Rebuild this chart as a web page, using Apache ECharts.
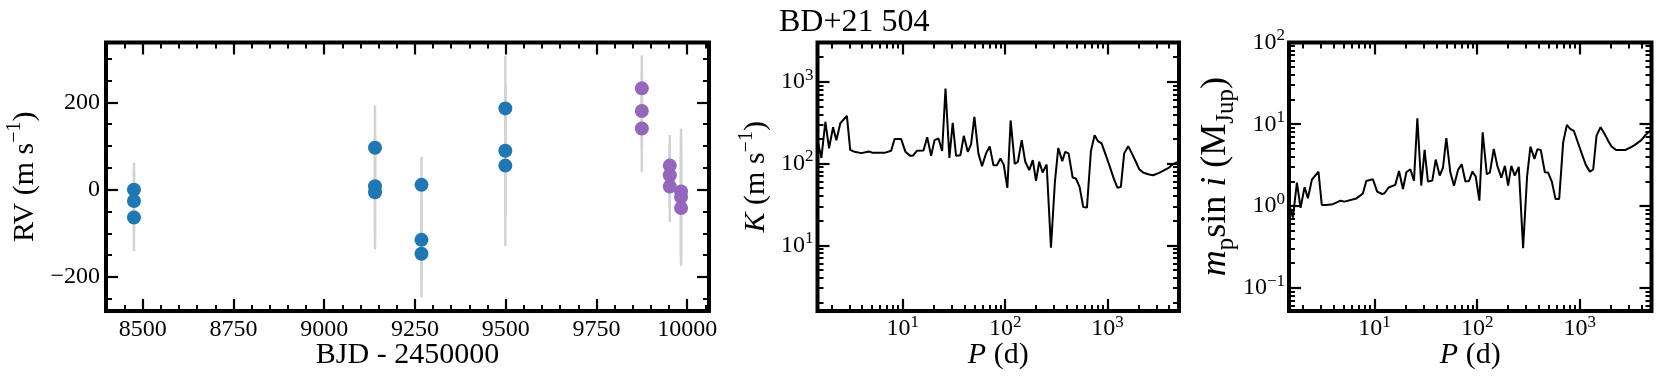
<!DOCTYPE html>
<html><head><meta charset="utf-8">
<script src="https://cdn.jsdelivr.net/npm/echarts@6/dist/echarts.min.js"></script>
<style>html,body{margin:0;padding:0;background:#fff}#c{width:1661px;height:386px}</style>
</head><body><div id="c"></div>
<script>
// ---------- data ----------
const titleText = 'BD+21 504';
// RV panel
const blueT   = [8476, 8476, 8476, 9140, 9140, 9140, 9268, 9268, 9268, 9499, 9499, 9499];
const blueRV  = [0, -26, -64, 96, 8, -6, 11, -115, -147, 186, 89, 55];
const blueErr = [62, 70, 77, 97, 115, 131, 64, 90, 100, 121, 150, 184];
const purpleT   = [9875, 9875, 9875, 9952, 9952, 9952, 9983, 9983, 9983];
const purpleRV  = [232, 180, 140, 55, 33, 7, -4, -17, -42];
const purpleErr = [76, 90, 100, 70, 75, 81, 144, 140, 133];
const rvXTicks = [8500, 8750, 9000, 9250, 9500, 9750, 10000];
const rvXMinor = [8400, 8450, 8550, 8600, 8650, 8700, 8800, 8850, 8900, 8950, 9050, 9100, 9150, 9200, 9300, 9350, 9400, 9450, 9550, 9600, 9650, 9700, 9800, 9850, 9900, 9950, 10050];
const rvYTicks = [-200, 0, 200];
const rvYMinor = [-250, -150, -100, -50, 50, 100, 150, 250, 300];
// detection-limit panels
const periods = [1.47,1.60,1.75,1.90,2.08,2.24,2.45,2.84,3.06,3.38,
  3.92,4.66,5.10,6.62,7.69,8.30,9.63,10.6,11.8,12.5,
  13.7,15.9,17.3,18.9,20.4,22.3,24.2,26.1,28.5,30.7,
  33.1,36.5,39.4,43.1,46.4,50.0,54.7,59.4,65.0,70.6,
  76.7,83.2,89.7,96.7,105,113,124,133,145,157,
  172,186,200,215,232,254,280,306,330,361,
  386,416,456,491,533,579,629,688,747,805,
  874,963,1054,1144,1252,1349,1454,1591,1728,1890,
  2037,2245,2550,2790,3192,3441,3997,4307,4950];
const kLimit = [190,117,324,153,278,193,311,382,147,139,
  134,140,135,135,143,199,199,139,124,124,
  143,144,210,124,193,202,142,828,117,315,
  124,126,218,139,171,373,133,92.8,133,162,
  95.4,95.4,115,97.2,50.4,336,99,105,193,105,
  82.9,110,61.3,105,77.6,97.2,9.36,59.7,155,107,
  139,133,67.4,65.5,51.8,29.4,28.9,142,222,188,
  176,126,91,66.7,50.4,51.8,133,163,133,105,
  85.3,76.9,73.3,71.9,76.9,80.5,89.3,97.2,105];
const mLimit = [1.05,0.72,1.93,0.95,1.70,1.24,2.10,2.62,1.03,1.03,
  1.05,1.16,1.13,1.23,1.42,2.02,2.12,1.50,1.40,1.43,
  1.68,1.81,2.68,1.61,2.58,2.81,2.04,11.8,1.77,4.85,
  1.99,2.04,3.69,2.35,2.94,6.74,2.58,1.77,2.76,3.24,
  1.99,2.02,2.63,2.29,1.16,7.98,2.44,2.58,4.99,3.09,
  2.22,3.09,1.77,3.09,2.35,3.01,0.303,2.29,5.33,3.77,
  4.94,4.85,2.58,2.56,1.99,1.22,1.22,6.03,9.81,8.77,
  8.28,5.85,4.21,3.18,2.63,2.79,7.26,9.19,7.76,6.25,
  5.33,4.85,4.85,4.85,5.27,5.58,6.43,7.26,8.53];
const pMajor = [10, 100, 1000];
const pMinor = [2,3,4,5,6,7,8,9,20,30,40,50,60,70,80,90,200,300,400,500,600,700,800,900,2000,3000,4000];
const kMajor = [10, 100, 1000];
const kMinor = [2,3,4,5,6,7,8,9,20,30,40,50,60,70,80,90,200,300,400,500,600,700,800,900,2000,3000];
const mMajor = [0.1, 1, 10, 100];
const mMinor = [0.06,0.07,0.08,0.09,0.2,0.3,0.4,0.5,0.6,0.7,0.8,0.9,2,3,4,5,6,7,8,9,20,30,40,50,60,70,80,90];

// ---------- layout / style ----------
const FONT = 'Liberation Serif';
const rvX = [8399, 10060], rvY = [-278, 337];
const pX = [1.466, 4990], kY = [1.57, 3020], mY = [0.0518, 100];
const grids = [
  {left: 106, top: 42.5, width: 603, height: 268.5},
  {left: 817.5, top: 42.5, width: 361.5, height: 268.5},
  {left: 1289, top: 42.5, width: 362.5, height: 268.5}
].map(g => Object.assign(g, {show: true, borderColor: '#000', borderWidth: 4, backgroundColor: 'transparent', containLabel: false}));

const xAxes = [], yAxes = [];
function mainAxis(arr, grid, type, range, pos) {
  arr.push({type, gridIndex: grid, min: range[0], max: range[1], position: pos, logBase: 10,
    axisLine: {show: false, onZero: false}, axisTick: {show: false}, axisLabel: {show: false},
    splitLine: {show: false}, minorTick: {show: false}, minorSplitLine: {show: false}});
  return arr.length - 1;
}
function tickAxis(arr, grid, range, pos, ticks, len, width, extra) {
  const a = {type: 'value', gridIndex: grid, min: range[0], max: range[1], position: pos,
    axisLine: {show: false, onZero: false}, splitLine: {show: false}, nameMoveOverlap: false,
    axisTick: {show: true, inside: true, length: len, customValues: ticks, lineStyle: {color: '#000', width}},
    axisLabel: {show: false}};
  if (extra) Object.assign(a, extra);
  arr.push(a);
  return arr.length - 1;
}
const lg = v => Math.log10(v);
const lgR = r => [lg(r[0]), lg(r[1])];
const supRich = {sup: {fontFamily: FONT, fontSize: 17, lineHeight: 17, verticalAlign: 'top', color: '#000'}};
const powFmt = v => { const n = Math.round(v); return '10{sup|' + (n < 0 ? '\u2212' + (-n) : n) + '}'; };
const numFmt = v => v < 0 ? '\u2212' + (-v) : String(v);
const nameStyle = (size, lh) => ({fontFamily: FONT, fontSize: size, lineHeight: lh, color: '#000',
  rich: {
    sup: {fontFamily: FONT, fontSize: 20, lineHeight: 20, verticalAlign: 'top', color: '#000'},
    sub: {fontFamily: FONT, fontSize: Math.round(size * 0.7), lineHeight: Math.round(size * 0.7), verticalAlign: 'bottom', color: '#000'},
    it: {fontFamily: FONT, fontSize: size, fontStyle: 'italic', lineHeight: lh, color: '#000'}
  }});
const MAJ = 12, MIN = 6;

// panel 0: RV
const x0 = mainAxis(xAxes, 0, 'value', rvX, 'bottom');
const y0 = mainAxis(yAxes, 0, 'value', rvY, 'left');
tickAxis(xAxes, 0, rvX, 'bottom', rvXTicks, MAJ, 2.2, {
  axisLabel: {show: true, customValues: rvXTicks, formatter: numFmt, margin: 7, fontFamily: FONT, fontSize: 24, color: '#000'},
  name: 'BJD - 2450000', nameLocation: 'middle', nameGap: 26, nameTextStyle: nameStyle(30, 36)});
tickAxis(xAxes, 0, rvX, 'bottom', rvXMinor, MIN, 2);
tickAxis(xAxes, 0, rvX, 'top', rvXTicks, MAJ, 2.2);
tickAxis(xAxes, 0, rvX, 'top', rvXMinor, MIN, 2);
tickAxis(yAxes, 0, rvY, 'left', rvYTicks, MAJ, 2.2, {
  axisLabel: {show: true, customValues: rvYTicks, formatter: numFmt, margin: 6, fontFamily: FONT, fontSize: 24, color: '#000'},
  name: 'RV (m s{sup|\u22121})', nameLocation: 'middle', nameRotate: 90, nameGap: 61, nameTextStyle: nameStyle(30, 40)});
tickAxis(yAxes, 0, rvY, 'left', rvYMinor, MIN, 2);
tickAxis(yAxes, 0, rvY, 'right', rvYTicks, MAJ, 2.2);
tickAxis(yAxes, 0, rvY, 'right', rvYMinor, MIN, 2);

// panels 1 and 2: log-log
function logPanel(grid, yRange, yMajor, yMinor, yName, yNameSize, yNameGap) {
  const xi = mainAxis(xAxes, grid, 'log', pX, 'bottom');
  const yi = mainAxis(yAxes, grid, 'log', yRange, 'left');
  const lx = lgR(pX), ly = lgR(yRange);
  const lab = {show: true, formatter: powFmt, fontFamily: FONT, fontSize: 24, lineHeight: 30, color: '#000', rich: supRich};
  tickAxis(xAxes, grid, lx, 'bottom', pMajor.map(lg), MAJ, 2.2, {
    axisLabel: Object.assign({}, lab, {customValues: pMajor.map(lg), margin: 3}),
    name: '{it|P} (d)', nameLocation: 'middle', nameGap: 26, nameTextStyle: nameStyle(30, 36)});
  tickAxis(xAxes, grid, lx, 'bottom', pMinor.map(lg), MIN, 2);
  tickAxis(xAxes, grid, lx, 'top', pMajor.map(lg), MAJ, 2.2);
  tickAxis(xAxes, grid, lx, 'top', pMinor.map(lg), MIN, 2);
  tickAxis(yAxes, grid, ly, 'left', yMajor.map(lg), MAJ, 2.2, {
    axisLabel: Object.assign({}, lab, {customValues: yMajor.map(lg), margin: 4}),
    name: yName, nameLocation: 'middle', nameRotate: 90, nameGap: yNameGap, nameTextStyle: nameStyle(yNameSize, yNameSize + 10)});
  tickAxis(yAxes, grid, ly, 'left', yMinor.map(lg), MIN, 2);
  tickAxis(yAxes, grid, ly, 'right', yMajor.map(lg), MAJ, 2.2);
  tickAxis(yAxes, grid, ly, 'right', yMinor.map(lg), MIN, 2);
  return [xi, yi];
}
const [x1, y1] = logPanel(1, kY, kMajor, kMinor, '{it|K} (m s{sup|\u22121})', 30, 41);
const [x2, y2] = logPanel(2, mY, mMajor, mMinor, '{it|m}{sub|p}sin{it| i} (M{sub|Jup})', 36, 50);

function errSeries(t, v, e) {
  return {type: 'custom', xAxisIndex: x0, yAxisIndex: y0, z: 1,
    data: t.map((tt, i) => [tt, v[i], e[i]]), encode: {x: 0, y: 1},
    renderItem: (params, api) => {
      const x = api.value(0), y = api.value(1), er = api.value(2);
      const a = api.coord([x, y - er]), b = api.coord([x, y + er]);
      return {type: 'line', shape: {x1: a[0], y1: a[1], x2: b[0], y2: b[1]}, style: {stroke: '#d3d3d3', lineWidth: 2.5}};
    }};
}

const option = {
  animation: false,
  backgroundColor: '#fff',
  textStyle: {fontFamily: FONT},
  graphic: [{type: 'text', left: 779, top: 7, style: {text: titleText, font: '32px "Liberation Serif"', fill: '#000'}}],
  grid: grids,
  xAxis: xAxes,
  yAxis: yAxes,
  series: [
    errSeries(blueT, blueRV, blueErr),
    errSeries(purpleT, purpleRV, purpleErr),
    {type: 'scatter', xAxisIndex: x0, yAxisIndex: y0, z: 3, symbolSize: 14, itemStyle: {color: '#1f77b4', opacity: 1},
      data: blueT.map((t, i) => [t, blueRV[i]])},
    {type: 'scatter', xAxisIndex: x0, yAxisIndex: y0, z: 3, symbolSize: 14, itemStyle: {color: '#9467bd', opacity: 1},
      data: purpleT.map((t, i) => [t, purpleRV[i]])},
    {type: 'line', xAxisIndex: x1, yAxisIndex: y1, showSymbol: false, symbol: 'none', clip: true,
      lineStyle: {color: '#000', width: 2}, data: periods.map((p, i) => [p, kLimit[i]])},
    {type: 'line', xAxisIndex: x2, yAxisIndex: y2, showSymbol: false, symbol: 'none', clip: true,
      lineStyle: {color: '#000', width: 2}, data: periods.map((p, i) => [p, mLimit[i]])}
  ]
};
echarts.init(document.getElementById('c'), null, {renderer: 'canvas'}).setOption(option);
</script>
</body></html>
